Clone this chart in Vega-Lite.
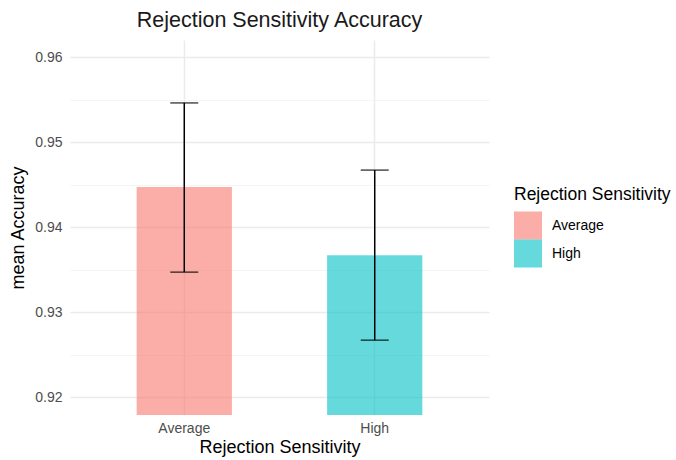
{
  "$schema": "https://vega.github.io/schema/vega-lite/v6.json",
  "autosize": "none",
  "width": 419,
  "height": 375,
  "padding": {"left": 70, "top": 40, "right": 187, "bottom": 45},
  "background": "white",
  "config": {
    "font": "Liberation Sans",
    "view": {"stroke": null},
    "axis": {"domain": false, "ticks": false, "labelColor": "#4D4D4D", "labelFontSize": 14, "titleFontSize": 18, "titleFontWeight": "normal", "titleColor": "#000000"}
  },
  "title": {"text": "Rejection Sensitivity Accuracy", "fontSize": 21.5, "fontWeight": "normal", "color": "#1A1A1A", "anchor": "middle", "offset": 9},
  "data": {"values": [
    {"group": "Average", "mean": 0.9447, "lower": 0.9347, "upper": 0.9546},
    {"group": "High", "mean": 0.9367, "lower": 0.9267, "upper": 0.9467}
  ]},
  "encoding": {
    "x": {"field": "group", "type": "nominal", "title": "Rejection Sensitivity",
      "scale": {"paddingInner": 0.5, "paddingOuter": 0.35},
      "axis": {"labelAngle": 0, "labelPadding": 6, "titlePadding": 3, "grid": true, "gridColor": "#EBEBEB", "gridWidth": 1.5}}
  },
  "layer": [
    {
      "mark": {"type": "bar", "clip": true, "opacity": 0.6},
      "encoding": {
        "y": {"field": "mean", "type": "quantitative", "title": "mean Accuracy",
          "scale": {"domain": [0.9179, 0.962], "nice": false, "zero": false},
          "axis": {"values": [0.92, 0.925, 0.93, 0.935, 0.94, 0.945, 0.95, 0.955, 0.96],
            "format": ".3f",
            "labelExpr": "(round(datum.value*1000) % 10 == 0) ? format(datum.value, '.2f') : ''",
            "labelPadding": 8, "titlePadding": 7,
            "gridColor": {"condition": {"test": "round(datum.value*1000) % 10 == 0", "value": "#EBEBEB"}, "value": "#F2F2F2"},
            "gridWidth": {"condition": {"test": "round(datum.value*1000) % 10 == 0", "value": 1.5}, "value": 0.8}}},
        "fill": {"field": "group", "type": "nominal", "title": "Rejection Sensitivity",
          "scale": {"range": ["#F8766D", "#00BFC4"]},
          "legend": {"orient": "none", "legendX": 444, "legendY": 146, "symbolType": "square", "symbolSize": 784, "symbolOpacity": 0.6, "symbolStrokeWidth": 0, "titleFontSize": 17.5, "titleFontWeight": "normal", "titleColor": "#000000", "labelFontSize": 14, "labelColor": "#000000", "rowPadding": 0, "titlePadding": 8, "labelOffset": 10}}
      }
    },
    {
      "mark": {"type": "rule", "color": "#000000", "strokeWidth": 1.5},
      "encoding": {
        "y": {"field": "lower", "type": "quantitative"},
        "y2": {"field": "upper"}
      }
    },
    {
      "mark": {"type": "tick", "color": "#000000", "size": 28, "thickness": 1.5},
      "encoding": {"y": {"field": "lower", "type": "quantitative"}}
    },
    {
      "mark": {"type": "tick", "color": "#000000", "size": 28, "thickness": 1.5},
      "encoding": {"y": {"field": "upper", "type": "quantitative"}}
    }
  ]
}
